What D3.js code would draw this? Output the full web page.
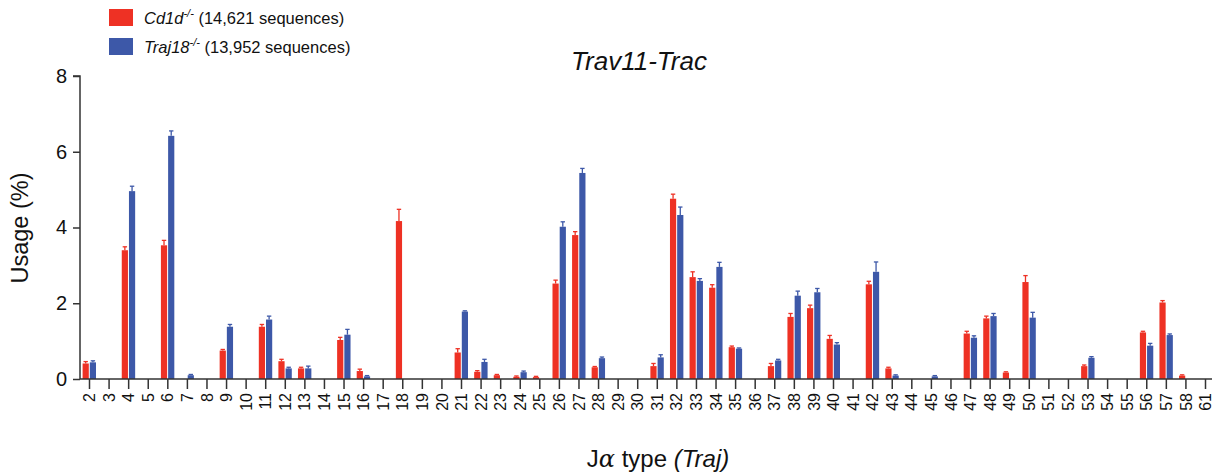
<!DOCTYPE html>
<html><head><meta charset="utf-8">
<script src="https://cdn.jsdelivr.net/npm/d3@7"></script>
<style>body{margin:0;background:#fff}svg{display:block;font-family:Arial,"Liberation Sans",Helvetica,sans-serif}</style>
</head><body><svg id="c" width="1215" height="472"></svg>
<script>
const categories = ["2","3","4","5","6","7","8","9","10","11","12","13","14","15","16","17","18","19","20","21","22","23","24","25","26","27","28","29","30","31","32","33","34","35","36","37","38","39","40","41","42","43","44","45","46","47","48","49","50","51","52","53","54","55","56","57","58","61"];
const cd1dValues = [0.41,0,3.40,0,3.53,0,0,0.75,0,1.38,
 0.47,0.28,0,1.03,0.21,0,4.17,0,0,0.70,
 0.19,0.10,0.06,0.05,2.52,3.80,0.31,0,0,0.34,
 4.76,2.69,2.41,0.84,0,0.34,1.64,1.87,1.06,0,
 2.50,0.28,0,0,0,1.20,1.60,0.17,2.56,0,
 0,0.34,0,0,1.23,2.02,0.09,0];
const traj18Values = [0.44,0,4.96,0,6.42,0.10,0,1.38,0,1.57,
 0.28,0.28,0,1.17,0.07,0,0,0,0,1.78,
 0.45,0,0.18,0,4.02,5.44,0.55,0,0,0.57,
 4.33,2.59,2.96,0.80,0,0.49,2.20,2.29,0.91,0,
 2.83,0.09,0,0.07,0,1.09,1.66,0,1.62,0,
 0,0.56,0,0,0.88,1.16,0,0];
const cd1dErr = [0.05,0,0.09,0,0.13,0,0,0.03,0,0.06,
 0.05,0.03,0,0.07,0.05,0,0.31,0,0,0.10,
 0.03,0.02,0.02,0.02,0.09,0.09,0.02,0,0,0.07,
 0.12,0.14,0.08,0.03,0,0.07,0.09,0.08,0.09,0,
 0.08,0.03,0,0,0,0.06,0.06,0.02,0.17,0,
 0,0.03,0,0,0.03,0.05,0.02,0];
const traj18Err = [0.04,0,0.13,0,0.13,0.02,0,0.06,0,0.09,
 0.03,0.06,0,0.14,0.02,0,0,0,0,0.02,
 0.07,0,0.03,0,0.13,0.12,0.03,0,0,0.07,
 0.21,0.06,0.12,0.02,0,0.03,0.12,0.10,0.05,0,
 0.26,0.02,0,0.02,0,0.05,0.07,0,0.14,0,
 0,0.03,0,0,0.06,0.03,0,0];
const yTicks = [0,2,4,6,8];
const seriesNames = ["Cd1d","Traj18"];
const seriesCounts = ["(14,621 sequences)","(13,952 sequences)"];
const colors = ["#EE3124","#3D58A8"];

const svg = d3.select("#c");
const x = d3.scalePoint().domain(categories).range([89, 1205]);
const y = d3.scaleLinear().domain([0, 8]).range([379, 76]);
const axisColor = "#333";

// bars
const series = [
  {vals: cd1dValues, err: cd1dErr, off: -6.4, color: colors[0]},
  {vals: traj18Values, err: traj18Err, off: 0.8, color: colors[1]}
];
const bw = 6.2;
series.forEach(s => {
  const g = svg.append("g");
  categories.forEach((c, i) => {
    const v = s.vals[i];
    if (v <= 0) return;
    const x0 = x(c) + s.off;
    g.append("rect").attr("x", x0).attr("y", y(v)).attr("width", bw)
      .attr("height", y(0) - y(v)).attr("fill", s.color);
    const e = s.err[i];
    if (e > 0) {
      const cx = x0 + bw / 2;
      g.append("line").attr("x1", cx).attr("x2", cx).attr("y1", y(v)).attr("y2", y(v + e))
        .attr("stroke", s.color).attr("stroke-width", 1.3);
      g.append("line").attr("x1", cx - 2.2).attr("x2", cx + 2.2).attr("y1", y(v + e)).attr("y2", y(v + e))
        .attr("stroke", s.color).attr("stroke-width", 1.3);
    }
  });
});

// y axis
const yAxis = d3.axisLeft(y).tickValues(yTicks).tickSize(7).tickPadding(6).tickFormat(d3.format("d"));
const ya = svg.append("g").attr("transform", "translate(80,0)").call(yAxis);
ya.select(".domain").attr("stroke", axisColor).attr("stroke-width", 1.5).attr("d", "M-7,76H0V379");
ya.selectAll(".tick line").attr("stroke", axisColor).attr("stroke-width", 1.5);
ya.selectAll(".tick text").attr("font-size", 20).attr("fill", "#111").attr("font-family", "Arial, Liberation Sans, sans-serif");

// x axis
const xAxis = d3.axisBottom(x).tickSize(10).tickPadding(8);
const xa = svg.append("g").attr("transform", "translate(0,379)").call(xAxis);
xa.select(".domain").attr("stroke", axisColor).attr("stroke-width", 1.5).attr("d", "M80,0H1212");
xa.selectAll(".tick line").attr("stroke", axisColor).attr("stroke-width", 1.5);
xa.selectAll(".tick text")
  .attr("font-size", 16).attr("fill", "#111").attr("font-family", "Arial, Liberation Sans, sans-serif")
  .attr("transform", "rotate(-90)")
  .attr("text-anchor", "end").attr("dy", "0.35em").attr("x", -14).attr("y", 0);

// title
svg.append("text").attr("x", 639).attr("y", 70).attr("text-anchor", "middle")
  .attr("font-size", 26).attr("font-style", "italic").attr("fill", "#111").text("Trav11-Trac");

// y label
svg.append("text").attr("transform", "translate(28,228) rotate(-90)").attr("text-anchor", "middle")
  .attr("font-size", 23.5).attr("fill", "#111").text("Usage (%)");

// x label
const xl = svg.append("text").attr("x", 658).attr("y", 467).attr("text-anchor", "middle")
  .attr("font-size", 24).attr("fill", "#111");
xl.append("tspan").text("J");
xl.append("tspan").attr("font-family", "DejaVu Serif, serif").attr("font-style", "italic").text("α");
xl.append("tspan").text(" type ");
xl.append("tspan").attr("font-style", "italic").text("(Traj)");

// legend
seriesNames.forEach((n, i) => {
  const ly = 9 + i * 29;
  svg.append("rect").attr("x", 109).attr("y", ly).attr("width", 24).attr("height", 17).attr("fill", colors[i]);
  const t = svg.append("text").attr("x", 144).attr("y", ly + 15).attr("font-size", 16.5).attr("fill", "#111");
  t.append("tspan").attr("font-style", "italic").text(n);
  t.append("tspan").attr("font-style", "italic").attr("font-size", 11).attr("dy", -7).text("-/-");
  t.append("tspan").attr("dy", 7).text(" " + seriesCounts[i]);
});
</script></body></html>
